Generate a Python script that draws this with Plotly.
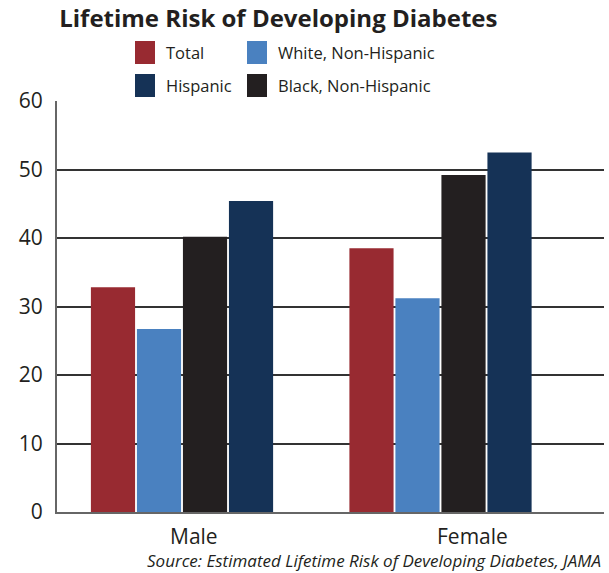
import plotly.graph_objects as go

categories = ["Male", "Female"]
series_names = ["Total", "White, Non-Hispanic", "Black, Non-Hispanic", "Hispanic"]
series_colors = ["#982a31", "#4a81c0", "#231f20", "#153256"]
total = [32.8, 38.5]
white = [26.7, 31.2]
black = [40.2, 49.2]
hispanic = [45.4, 52.5]
y_ticks = [0, 10, 20, 30, 40, 50, 60]

values = [total, white, black, hispanic]
FONT = "Open Sans"

fig = go.Figure()
for name, vals, col in zip(series_names, values, series_colors):
    fig.add_trace(go.Bar(x=categories, y=vals, name=name, marker=dict(color=col, line=dict(width=0)),
                         showlegend=False))

fig.update_layout(
    width=609, height=573,
    margin=dict(l=57, r=5, t=101, b=61),
    paper_bgcolor="white", plot_bgcolor="white",
    barmode="group", bargap=0.288, bargroupgap=0.04,
    title=dict(text="<b>Lifetime Risk of Developing Diabetes</b>", x=0.457, xanchor="center",
               y=0.968, yanchor="middle", font=dict(family=FONT, size=24, color="#231f20")),
    xaxis=dict(range=[-0.4836, 1.6325], showticklabels=False, showline=True, linecolor="#666",
               linewidth=2, ticks="", showgrid=False),
    yaxis=dict(range=[0, 60], tickvals=y_ticks, showline=True, linecolor="#666", linewidth=2,
               gridcolor="#333", gridwidth=1.5, zeroline=False,
               tickfont=dict(family=FONT, size=21, color="#231f20"), ticks="", ticklabelstandoff=8),
)

# x category labels
shifts = [12, 32]
for cat, sh in zip(categories, shifts):
    fig.add_annotation(x=cat, y=0, xref="x", yref="y", yshift=-24, xshift=sh, text=cat,
                       showarrow=False, font=dict(family=FONT, size=21, color="#231f20"))

# legend (manual, 2x2)
W, H = 609, 573
order = [0, 1, 3, 2]
pos = [(135, 41), (247, 41), (135, 74), (247, 74)]
for idx, (px, py) in zip(order, pos):
    fig.add_shape(type="rect", xref="paper", yref="paper",
                  x0=(px - 57) / (W - 62), x1=(px + 20 - 57) / (W - 62),
                  y0=(H - 61 - (py + 23)) / (H - 162), y1=(H - 61 - py) / (H - 162),
                  fillcolor=series_colors[idx], line=dict(width=0))
    fig.add_annotation(xref="paper", yref="paper", x=(px + 29 - 57) / (W - 62),
                       y=(H - 61 - (py + 11.5)) / (H - 162), xanchor="left", yanchor="middle",
                       text=series_names[idx], showarrow=False,
                       font=dict(family=FONT, size=16.5, color="#231f20"))

fig.add_annotation(xref="paper", yref="paper", x=(603 - 57) / (W - 62), y=(H - 61 - 560) / (H - 162),
                   xanchor="right", yanchor="middle", showarrow=False,
                   text="<i>Source: Estimated Lifetime Risk of Developing Diabetes, JAMA</i>",
                   font=dict(family=FONT, size=17, color="#231f20"))

fig.write_html("out.html", config={"displayModeBar": False},
               post_script="document.body.style.margin='0';document.body.style.overflow='hidden';")
